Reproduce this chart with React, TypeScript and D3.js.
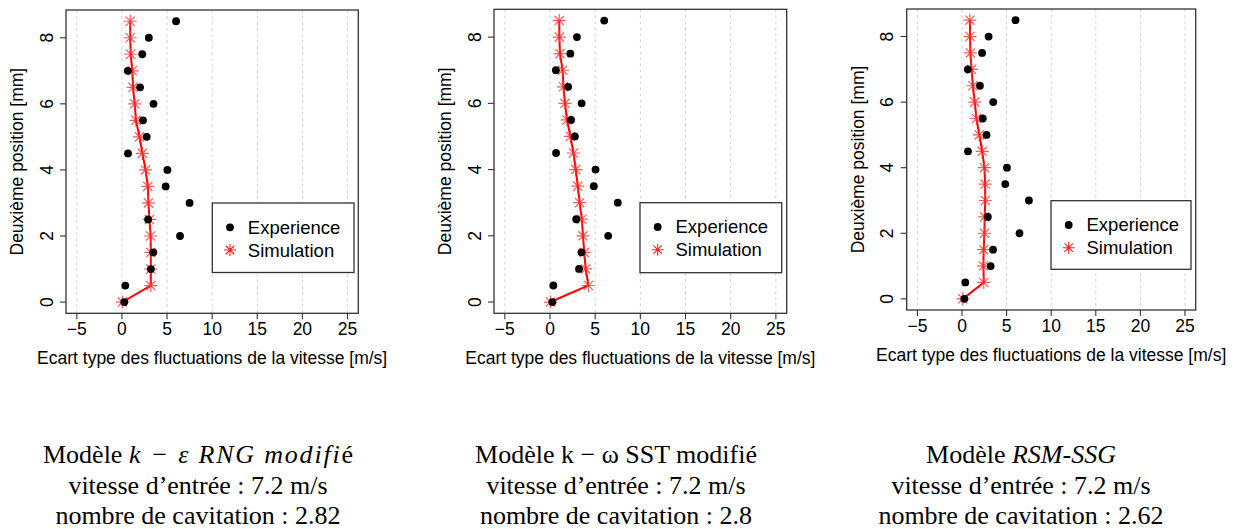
import React from "react";
import * as d3 from "d3";

const yPositions = [0, 0.5, 1, 1.5, 2, 2.5, 3, 3.5, 4, 4.5, 5, 5.5, 6, 6.5, 7, 7.5, 8, 8.5];
const experience = [0.26, 0.37, 3.21, 3.48, 6.44, 2.9, 7.5, 4.85, 5.04, 0.67, 2.75, 2.33, 3.5, 2.01, 0.65, 2.25, 2.98, 6.0];
const simKeRNG = [0.05, 3.2, 3.2, 3.2, 3.18, 3.05, 2.94, 2.87, 2.62, 2.27, 1.95, 1.55, 1.42, 1.23, 1.15, 0.97, 0.92, 0.92];
const simKwSST = [0.04, 4.25, 3.95, 3.79, 3.65, 3.52, 3.28, 3.07, 2.85, 2.6, 2.26, 1.88, 1.66, 1.49, 1.4, 1.1, 1.04, 1.02];
const simRSM = [0.1, 2.44, 2.4, 2.42, 2.52, 2.54, 2.61, 2.59, 2.52, 2.26, 1.94, 1.62, 1.43, 1.22, 1.07, 0.94, 0.9, 0.88];

const xTicks = [-5, 0, 5, 10, 15, 20, 25];
const yTicks = [0, 2, 4, 6, 8];
const xDomain = [-6.2, 26.2];
const yDomain = [-0.34, 8.84];

const xTitle = "Ecart type des fluctuations de la vitesse [m/s]";
const yTitle = "Deuxième position [mm]";
const legendLabels = ["Experience", "Simulation"];

const captionLine2 = "vitesse d\u2019entrée : 7.2 m/s";
const cavitationNumbers = ["2.82", "2.8", "2.62"];

const SANS = "'Liberation Sans', Arial, sans-serif";
const SERIF = "'Liberation Serif', 'Times New Roman', serif";

type PanelLayout = {
  left: number; right: number; top: number; bottom: number;
  legend: { x: number; y: number; w: number; h: number };
  capX: number;
};

const layouts: PanelLayout[] = [
  { left: 66, right: 358.3, top: 10, bottom: 313.3, legend: { x: 212.3, y: 203, w: 141.7, h: 69.5 }, capX: 198 },
  { left: 494, right: 786.7, top: 9.3, bottom: 313.3, legend: { x: 640, y: 202.7, w: 141.7, h: 70 }, capX: 616 },
  { left: 906.7, right: 1195.7, top: 9, bottom: 310, legend: { x: 1051, y: 200.7, w: 140, h: 68.6 }, capX: 1021 },
];

const simSeries = [simKeRNG, simKwSST, simRSM];

function starPath(cx: number, cy: number, r: number) {
  const d = r / Math.SQRT2;
  return `M${cx - r},${cy}L${cx + r},${cy}M${cx},${cy - r}L${cx},${cy + r}` +
    `M${cx - d},${cy - d}L${cx + d},${cy + d}M${cx - d},${cy + d}L${cx + d},${cy - d}`;
}

function Panel({ layout, sim }: { layout: PanelLayout; sim: number[] }) {
  const x = d3.scaleLinear().domain(xDomain).range([layout.left, layout.right]);
  const y = d3.scaleLinear().domain(yDomain).range([layout.bottom, layout.top]);
  const line = d3.line<number>().x((d) => x(d)).y((_, i) => y(yPositions[i]));
  const cx = (layout.left + layout.right) / 2;
  const cy = (layout.top + layout.bottom) / 2;
  const L = layout.legend;
  return (
    <g>
      {xTicks.map((t) => (
        <line key={"g" + t} x1={x(t)} x2={x(t)} y1={layout.top} y2={layout.bottom}
          stroke="#d4d4d4" strokeWidth={1} strokeDasharray="3,3" />
      ))}
      <rect x={layout.left} y={layout.top} width={layout.right - layout.left} height={layout.bottom - layout.top}
        fill="none" stroke="#333" strokeWidth={1.3} />
      {xTicks.map((t) => (
        <g key={"xt" + t}>
          <line x1={x(t)} x2={x(t)} y1={layout.bottom} y2={layout.bottom + 6} stroke="#333" strokeWidth={1.1} />
          <text x={x(t)} y={layout.bottom + 22} textAnchor="middle" fontFamily={SANS} fontSize={17.5} fill="#000">
            {t < 0 ? "\u2212" + Math.abs(t) : String(t)}
          </text>
        </g>
      ))}
      {yTicks.map((t) => (
        <g key={"yt" + t}>
          <line x1={layout.left - 6} x2={layout.left} y1={y(t)} y2={y(t)} stroke="#333" strokeWidth={1.1} />
          <text transform={`translate(${layout.left - 13.5},${y(t)}) rotate(-90)`} textAnchor="middle"
            fontFamily={SANS} fontSize={17.5} fill="#000">{t}</text>
        </g>
      ))}
      <text x={cx} y={layout.bottom + 51} textAnchor="middle" fontFamily={SANS} fontSize={17.5} fill="#000">{xTitle}</text>
      <text transform={`translate(${layout.left - 43},${cy}) rotate(-90)`} textAnchor="middle"
        fontFamily={SANS} fontSize={17.5} fill="#000">{yTitle}</text>

      <path d={line(sim) || ""} fill="none" stroke="#ff0000" strokeWidth={2} />
      {sim.map((v, i) => (
        <path key={"s" + i} d={starPath(x(v), y(yPositions[i]), 6.5)} stroke="#ff3030" strokeWidth={1.2} fill="none" opacity={0.8} />
      ))}
      {experience.map((v, i) => (
        <circle key={"e" + i} cx={x(v)} cy={y(yPositions[i])} r={3.9} fill="#000" />
      ))}

      <rect x={L.x} y={L.y} width={L.w} height={L.h} fill="#fff" stroke="#333" strokeWidth={1.3} />
      <circle cx={L.x + 17.7} cy={L.y + 24.3} r={3.9} fill="#000" />
      <path d={starPath(L.x + 17.7, L.y + 47, 6)} stroke="#ff2020" strokeWidth={1.1} fill="none" />
      <text x={L.x + 35.5} y={L.y + 30.5} fontFamily={SANS} fontSize={18.5} fill="#000">{legendLabels[0]}</text>
      <text x={L.x + 35.5} y={L.y + 53.5} fontFamily={SANS} fontSize={18.5} fill="#000">{legendLabels[1]}</text>
    </g>
  );
}

function Caption({ idx, cx }: { idx: number; cx: number }) {
  const fs = 26;
  let first: React.ReactNode;
  if (idx === 0) {
    first = (
      <>
        Modèle <tspan fontStyle="italic" letterSpacing={1.8}>k − ε RNG modifi</tspan>é
      </>
    );
  } else if (idx === 1) {
    first = <>Modèle k − ω SST modifié</>;
  } else {
    first = (
      <>
        Modèle <tspan fontStyle="italic">RSM-SSG</tspan>
      </>
    );
  }
  return (
    <g fontFamily={SERIF} fontSize={fs} fill="#000" textAnchor="middle">
      <text x={cx} y={463}>{first}</text>
      <text x={cx} y={494}>{captionLine2}</text>
      <text x={cx} y={524}>{"nombre de cavitation : " + cavitationNumbers[idx]}</text>
    </g>
  );
}

export default function App() {
  return (
    <svg width={1239} height={529} style={{ position: "absolute", left: 0, top: 0, background: "#fff" }}>
      <rect x={0} y={0} width={1239} height={529} fill="#fff" />
      {layouts.map((l, i) => (
        <Panel key={i} layout={l} sim={simSeries[i]} />
      ))}
      {layouts.map((l, i) => (
        <Caption key={"c" + i} idx={i} cx={l.capX} />
      ))}
    </svg>
  );
}
